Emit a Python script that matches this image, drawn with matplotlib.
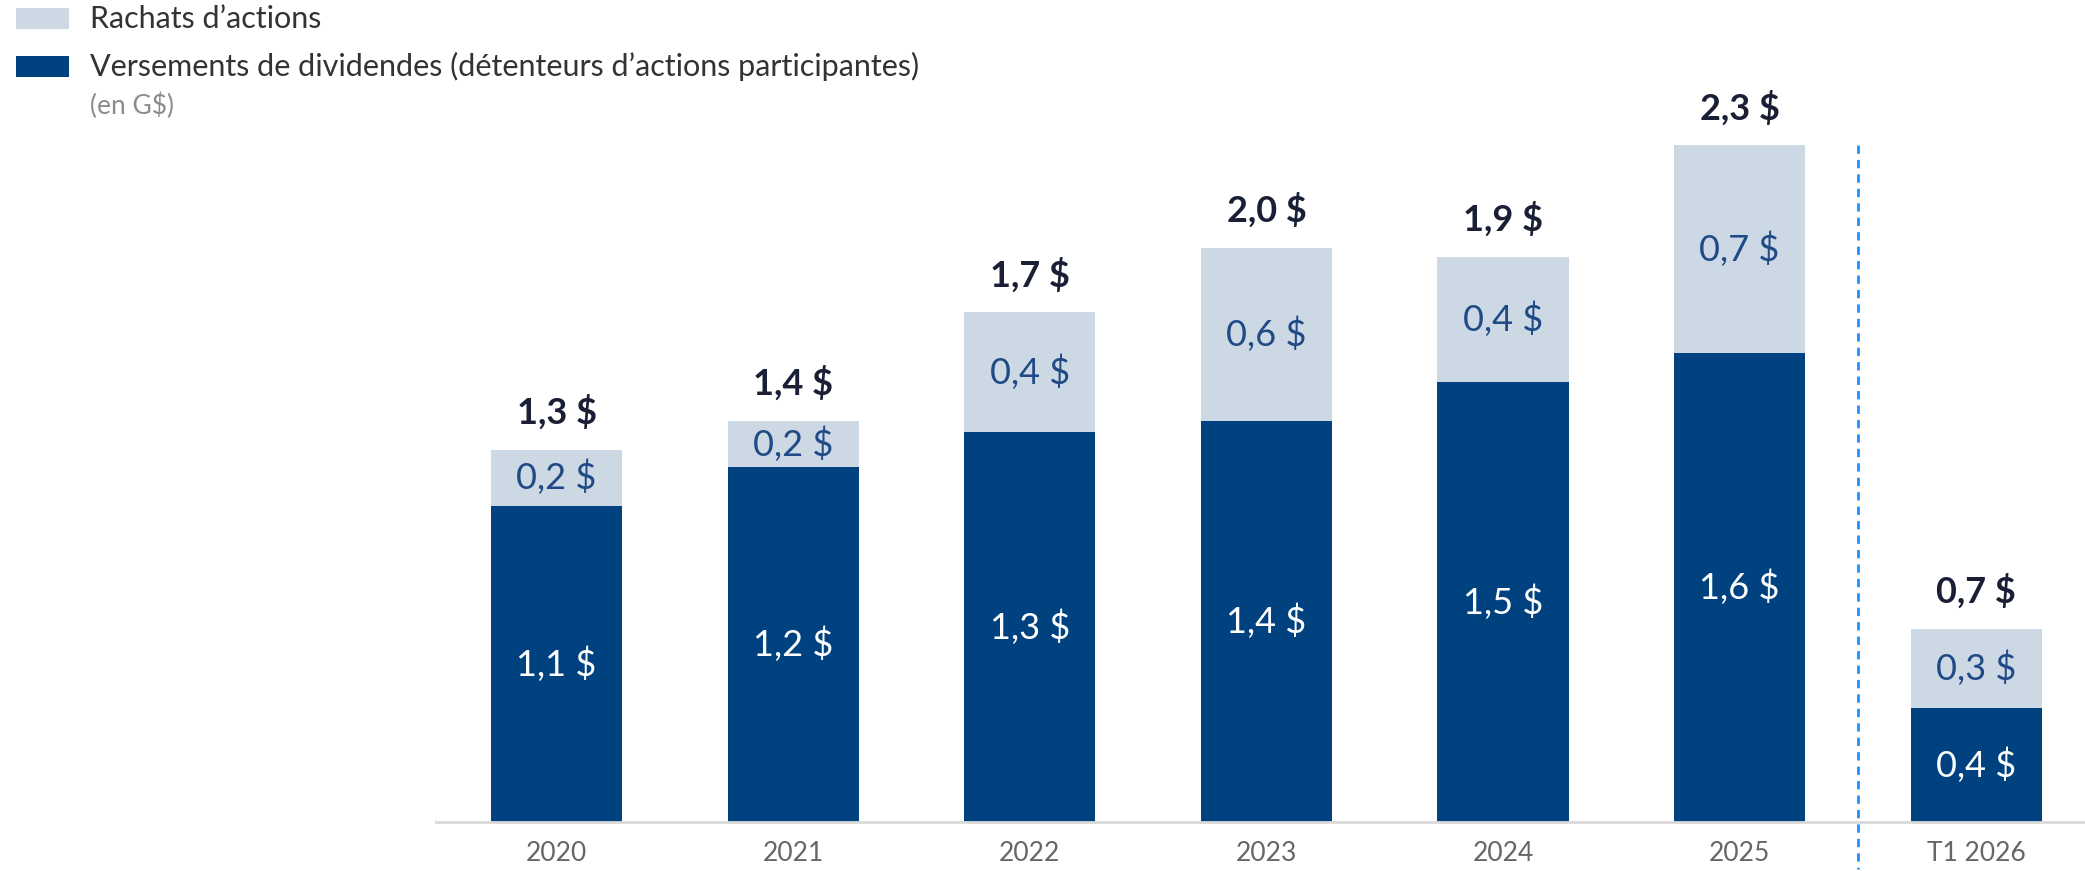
import matplotlib
matplotlib.use("Agg")
import matplotlib.pyplot as plt
from matplotlib.patches import Rectangle

plt.rcParams['font.family'] = ['Lato', 'DejaVu Sans']

# ---- data (G$) ----
categories = ["2020", "2021", "2022", "2023", "2024", "2025", "T1 2026"]
dividendes = [1.08, 1.21, 1.33, 1.37, 1.50, 1.60, 0.39]
rachats = [0.19, 0.16, 0.41, 0.59, 0.43, 0.71, 0.27]
dividend_labels = ["1,1 $", "1,2 $", "1,3 $", "1,4 $", "1,5 $", "1,6 $", "0,4 $"]
rachat_labels = ["0,2 $", "0,2 $", "0,4 $", "0,6 $", "0,4 $", "0,7 $", "0,3 $"]
total_labels = ["1,3 $", "1,4 $", "1,7 $", "2,0 $", "1,9 $", "2,3 $", "0,7 $"]
legend_labels = ["Rachats d\u2019actions",
                 "Versements de dividendes (d\u00e9tenteurs d\u2019actions participantes)"]
unit_label = "(en G$)"

DARK = "#00427F"
LIGHT = "#CCD8E4"
W, H = 2085, 871

fig = plt.figure(figsize=(W / 100, H / 100), dpi=100)
ax_left = 436 / W
ax_bottom = 49 / H
ax = fig.add_axes([ax_left, ax_bottom, 1 - ax_left, 2.6 * 293 / H])

x = list(range(len(categories)))
bw = 0.555
b1 = ax.bar(x, dividendes, width=bw, color=DARK, zorder=2)
b2 = ax.bar(x, rachats, width=bw, bottom=dividendes, color=LIGHT, zorder=2)

for i in x:
    d, r = dividendes[i], rachats[i]
    ax.text(i, d / 2, dividend_labels[i], ha='center', va='center',
            color='white', fontsize=26, fontweight='normal')
    ax.text(i, d + r / 2, rachat_labels[i], ha='center', va='center',
            color="#1F4A86", fontsize=26, fontweight='normal')
    ax.annotate(total_labels[i], (i, d + r), xytext=(0, 27), textcoords='offset points',
                ha='center', va='center', color="#1A1F36", fontsize=26, fontweight='bold')

ax.set_xlim(-0.51, 6.46)
ax.set_ylim(0, 2.6)
ax.set_xticks(x)
ax.set_xticklabels(categories, fontsize=19, color="#666666")
ax.tick_params(axis='x', length=0, pad=14)
ax.set_yticks([])
for s in ['top', 'left', 'right']:
    ax.spines[s].set_visible(False)
ax.spines['bottom'].set_color("#D9D9D9")
ax.spines['bottom'].set_linewidth(2)

# dashed separator
ax.plot([5.5, 5.5], [2.31, -0.16], color="#1E90FF", linestyle=(0, (3, 2.2)),
        linewidth=2, clip_on=False, zorder=3)

# ---- legend ----
def fx(px):
    return px / W

def fy(py):
    return 1 - py / H

fig.patches.append(Rectangle((fx(16), fy(29)), fx(53), 21 / H, transform=fig.transFigure,
                             facecolor=LIGHT, edgecolor='none'))
fig.patches.append(Rectangle((fx(16), fy(77)), fx(53), 21 / H, transform=fig.transFigure,
                             facecolor=DARK, edgecolor='none'))
fig.text(fx(90), fy(19), legend_labels[0], ha='left', va='center', fontsize=22,
         color="#333333")
fig.text(fx(90), fy(66), legend_labels[1], ha='left', va='center', fontsize=22,
         color="#333333")
fig.text(fx(90), fy(106), unit_label, ha='left', va='center', fontsize=19,
         color="#8C8C8C")

fig.savefig("out.png", dpi=100)
